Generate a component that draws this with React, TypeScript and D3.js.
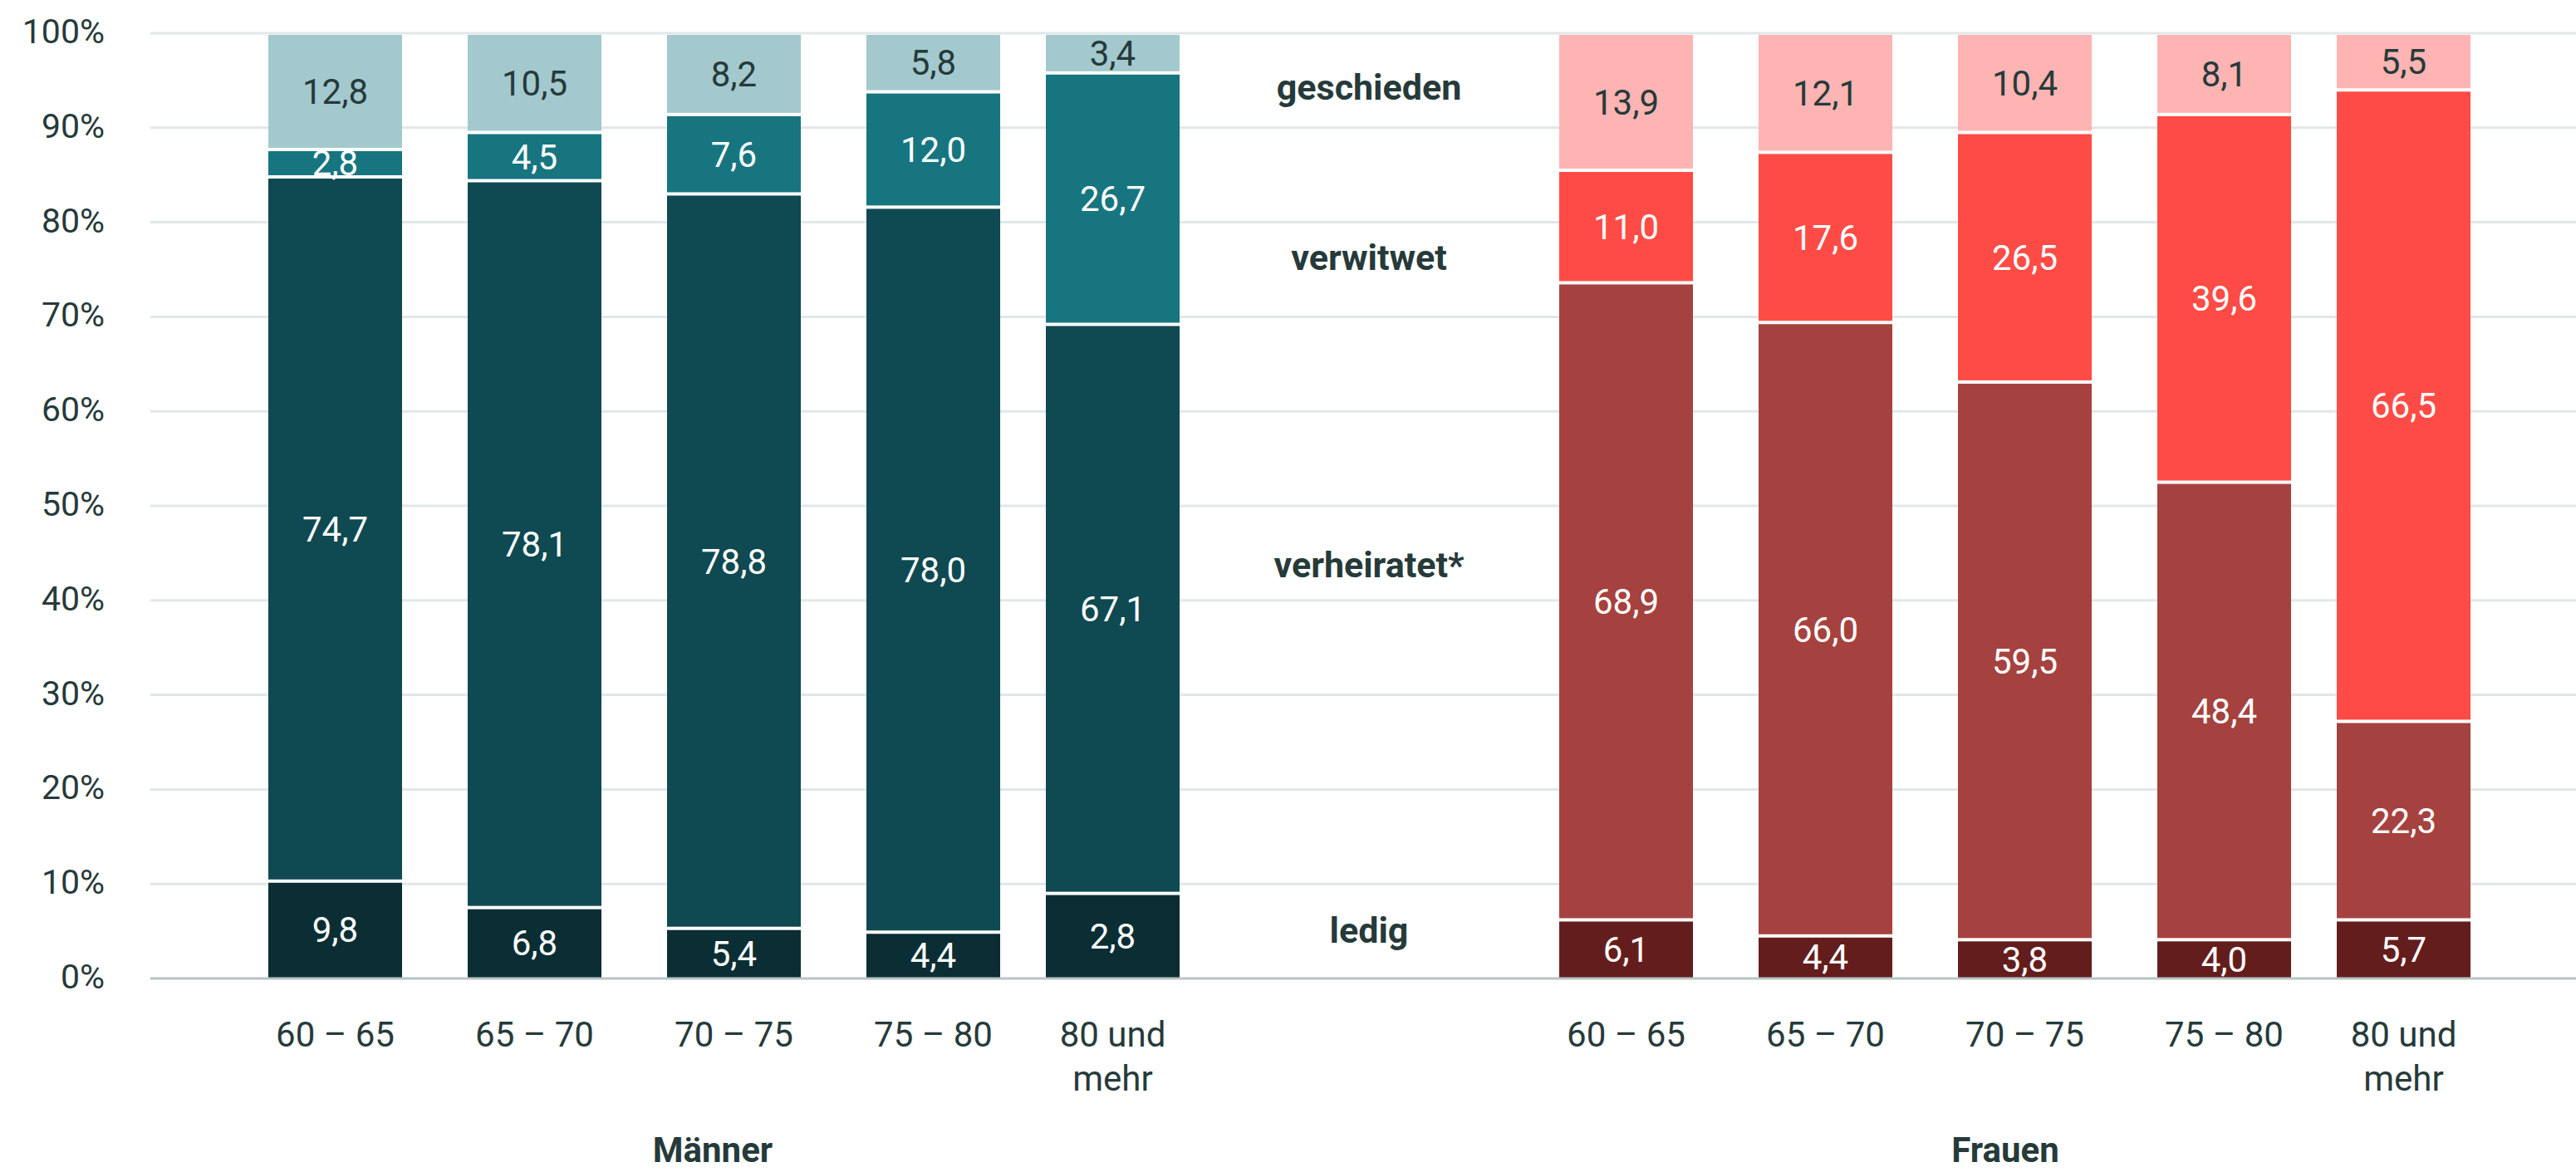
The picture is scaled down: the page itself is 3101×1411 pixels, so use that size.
import React, { useEffect, useRef } from "react"
import * as d3 from "d3"

const ageGroups = ["60 – 65", "65 – 70", "70 – 75", "75 – 80", "80 und mehr"]
const ageCenters = [62.5, 67.5, 72.5, 77.5, 82]
const statuses = ["ledig", "verheiratet*", "verwitwet", "geschieden"]
const sexes = ["Männer", "Frauen"]

// printed values (%)
const menLedig = [9.8, 6.8, 5.4, 4.4, 2.8]
const menVerheiratet = [74.7, 78.1, 78.8, 78.0, 67.1]
const menVerwitwet = [2.8, 4.5, 7.6, 12.0, 26.7]
const menGeschieden = [12.8, 10.5, 8.2, 5.8, 3.4]
const womenLedig = [6.1, 4.4, 3.8, 4.0, 5.7]
const womenVerheiratet = [68.9, 66.0, 59.5, 48.4, 22.3]
const womenVerwitwet = [11.0, 17.6, 26.5, 39.6, 66.5]
const womenGeschieden = [13.9, 12.1, 10.4, 8.1, 5.5]

// segment heights as the bars are drawn (not always equal to the printed numbers)
const menLedigBar = [10.3, 7.5, 5.3, 4.9, 9.0]
const menVerheiratetBar = [74.5, 76.9, 77.7, 76.7, 60.2]
const menVerwitwetBar = [2.9, 5.1, 8.4, 12.2, 26.6]
const menGeschiedenBar = [12.3, 10.5, 8.6, 6.2, 4.2]
const womenLedigBar = [6.2, 4.5, 4.1, 4.1, 6.2]
const womenVerheiratetBar = [67.4, 64.9, 59.0, 48.4, 21.0]
const womenVerwitwetBar = [11.9, 18.0, 26.4, 38.9, 66.8]
const womenGeschiedenBar = [14.5, 12.6, 10.5, 8.6, 6.0]

const yTicks = [0, 10, 20, 30, 40, 50, 60, 70, 80, 90, 100]

const menColors = ["#0b2e34", "#0f4951", "#177580", "#a3c9ce"]
const womenColors = ["#641d1d", "#a5423f", "#ff4b45", "#feb4b3"]
const textDark = "#263a3a"

const W = 3101
const H = 1411
const FONT = "Roboto, 'Noto Sans', sans-serif"

const de = d3.formatLocale({ decimal: ",", thousands: ".", grouping: [3], currency: ["", " €"] })
const fmt = de.format(".1f")

export default function App() {
  const ref = useRef(null)

  useEffect(() => {
    document.body.style.margin = "0"
    const svg = d3.select(ref.current)
    svg.selectAll("*").remove()

    const yScale = d3.scaleLinear().domain([0, 100]).range([1178, 40])
    const xMen = d3.scaleLinear().domain([62.5, 82]).range([403.5, 1339.5])
    const xWomen = d3.scaleLinear().domain([62.5, 82]).range([1957.5, 2893.5])
    const barWidth = 161
    const gridLeft = 181

    // gridlines
    svg.append("g")
      .selectAll("line")
      .data(yTicks.filter(t => t > 0))
      .enter()
      .append("line")
      .attr("x1", gridLeft)
      .attr("x2", W)
      .attr("y1", d => yScale(d))
      .attr("y2", d => yScale(d))
      .attr("stroke", "#e1e7e7")
      .attr("stroke-width", 3)

    // y tick labels
    svg.append("g")
      .selectAll("text")
      .data(yTicks)
      .enter()
      .append("text")
      .attr("x", 126)
      .attr("y", d => yScale(d) + 12)
      .attr("text-anchor", "end")
      .attr("font-family", FONT)
      .attr("font-size", 41)
      .attr("fill", textDark)
      .text(d => d + "%")

    const groups = [
      {
        x: xMen,
        colors: menColors,
        bars: [menLedigBar, menVerheiratetBar, menVerwitwetBar, menGeschiedenBar],
        labels: [menLedig, menVerheiratet, menVerwitwet, menGeschieden],
      },
      {
        x: xWomen,
        colors: womenColors,
        bars: [womenLedigBar, womenVerheiratetBar, womenVerwitwetBar, womenGeschiedenBar],
        labels: [womenLedig, womenVerheiratet, womenVerwitwet, womenGeschieden],
      },
    ]

    groups.forEach(g => {
      const segs = []
      ageCenters.forEach((age, i) => {
        let cum = 0
        statuses.forEach((s, k) => {
          const v = g.bars[k][i]
          segs.push({ age, k, lo: cum, hi: cum + v, label: g.labels[k][i] })
          cum += v
        })
      })

      svg.append("g")
        .selectAll("rect")
        .data(segs)
        .enter()
        .append("rect")
        .attr("x", d => g.x(d.age) - barWidth / 2)
        .attr("width", barWidth)
        .attr("y", d => yScale(d.hi) + 2)
        .attr("height", d => yScale(d.lo) - yScale(d.hi) - 2 - (d.lo === 0 ? 0 : 2))
        .attr("fill", d => g.colors[d.k])

      svg.append("g")
        .selectAll("text")
        .data(segs)
        .enter()
        .append("text")
        .attr("x", d => g.x(d.age))
        .attr("y", d => (yScale(d.lo) + yScale(d.hi)) / 2 + 15)
        .attr("text-anchor", "middle")
        .attr("font-family", FONT)
        .attr("font-size", 42)
        .attr("fill", d => (d.k === 3 ? textDark : "#ffffff"))
        .text(d => fmt(d.label))

      // x labels
      const xl = svg.append("g")
        .selectAll("text")
        .data(ageGroups)
        .enter()
        .append("text")
        .attr("x", (d, i) => g.x(ageCenters[i]))
        .attr("y", 1260)
        .attr("text-anchor", "middle")
        .attr("font-family", FONT)
        .attr("font-size", 42)
        .attr("fill", textDark)
      xl.each(function (d) {
        const t = d3.select(this)
        const parts = d === "80 und mehr" ? ["80 und", "mehr"] : [d]
        parts.forEach((p, j) => {
          t.append("tspan")
            .attr("x", t.attr("x"))
            .attr("dy", j === 0 ? 0 : 53)
            .text(p)
        })
      })
    })

    // baseline
    svg.append("line")
      .attr("x1", gridLeft)
      .attr("x2", W)
      .attr("y1", yScale(0))
      .attr("y2", yScale(0))
      .attr("stroke", "#b7c4c4")
      .attr("stroke-width", 3)

    // status labels between the two groups
    const statusY = [3.8, 42.4, 75, 93]
    svg.append("g")
      .selectAll("text")
      .data(statuses)
      .enter()
      .append("text")
      .attr("x", 1648)
      .attr("y", (d, i) => yScale(statusY[i]))
      .attr("text-anchor", "middle")
      .attr("font-family", FONT)
      .attr("font-weight", "bold")
      .attr("font-size", 43)
      .attr("fill", textDark)
      .text(d => d)

    // group titles
    const titleX = [858, 2414]
    svg.append("g")
      .selectAll("text")
      .data(sexes)
      .enter()
      .append("text")
      .attr("x", (d, i) => titleX[i])
      .attr("y", 1399)
      .attr("text-anchor", "middle")
      .attr("font-family", FONT)
      .attr("font-weight", "bold")
      .attr("font-size", 42)
      .attr("fill", textDark)
      .text(d => d)
  }, [])

  return <svg ref={ref} width={W} height={H} style={{ display: "block", background: "#ffffff" }} />
}
